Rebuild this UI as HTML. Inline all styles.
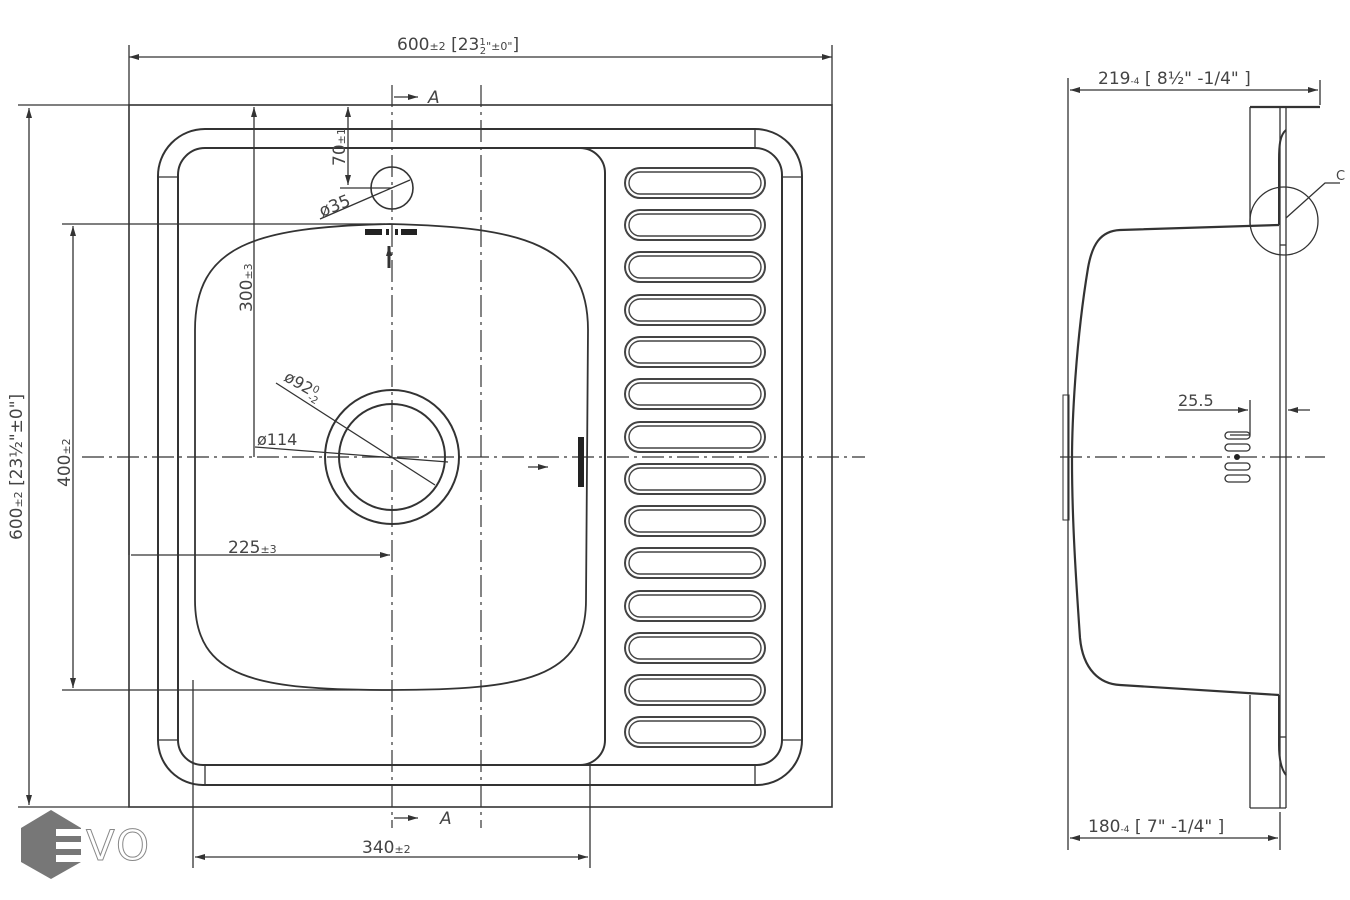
<!DOCTYPE html>
<html><head><meta charset="utf-8"><style>
html,body{margin:0;padding:0;background:#fff;width:1350px;height:900px;overflow:hidden}
svg{display:block}
text{font-family:"DejaVu Sans","Liberation Sans",sans-serif;fill:#444}
</style></head><body>
<svg width="1350" height="900" viewBox="0 0 1350 900" xmlns="http://www.w3.org/2000/svg">
<defs>
<marker id="ar" viewBox="0 0 10 6" refX="10" refY="3" markerWidth="10" markerHeight="6" orient="auto-start-reverse" markerUnits="userSpaceOnUse"><path d="M0,0 L10,3 L0,6 z" fill="#333"/></marker>
<g id="slot"><rect x="625" y="0" width="140" height="30" rx="15" fill="none" stroke="#444" stroke-width="2"/><rect x="629" y="4" width="132" height="22" rx="11" fill="none" stroke="#444" stroke-width="1.4"/></g>
</defs>
<g fill="none" stroke="#333" stroke-width="1.3">
<line x1="129" y1="45" x2="129" y2="105"/><line x1="832" y1="45" x2="832" y2="105"/>
<line x1="129" y1="57" x2="832" y2="57" marker-start="url(#ar)" marker-end="url(#ar)"/>
<rect x="129" y="105" width="703" height="702" stroke-width="1.6"/>
<line x1="18" y1="105" x2="129" y2="105"/><line x1="18" y1="807" x2="129" y2="807"/>
<line x1="29" y1="108" x2="29" y2="805" marker-start="url(#ar)" marker-end="url(#ar)"/>
<line x1="62" y1="224" x2="385" y2="224"/><line x1="62" y1="690" x2="390" y2="690"/>
<line x1="73" y1="226" x2="73" y2="688" marker-start="url(#ar)" marker-end="url(#ar)"/>
<path d="M158 177 L158 740 A45 45 0 0 0 203 785 L757 785 A45 45 0 0 0 802 740 L802 177 A47 47 0 0 0 755 129 L205 129 A47 47 0 0 0 158 177 Z" stroke-width="2"/>
<path d="M178 175 L178 740 A25 25 0 0 0 203 765 L757 765 A25 25 0 0 0 782 740 L782 175 A27 27 0 0 0 755 148 L205 148 A27 27 0 0 0 178 175 Z" stroke-width="2"/>
<line x1="158" y1="177" x2="178" y2="177"/><line x1="158" y1="740" x2="178" y2="740"/>
<line x1="782" y1="177" x2="802" y2="177"/><line x1="782" y1="740" x2="802" y2="740"/>
<line x1="205" y1="765" x2="205" y2="785"/><line x1="755" y1="765" x2="755" y2="785"/>
<line x1="755" y1="129" x2="755" y2="148"/>
<path d="M580 148 A25 25 0 0 1 605 173 L605 740 A25 25 0 0 1 580 765" stroke-width="2"/>
<path d="M195 330 C195 245,255 227,390 224 C525 227,588 245,588 330 L586 600 C586 678,525 690,390 690 C255 690,195 678,195 600 Z" stroke-width="1.8"/>
<circle cx="392" cy="457" r="67" stroke-width="2"/><circle cx="392" cy="457" r="53" stroke-width="2"/>
<circle cx="392" cy="188" r="21" stroke-width="1.6"/>
<g stroke-dasharray="22 5 3 5" stroke-width="1.2">
<line x1="82" y1="457" x2="865" y2="457"/>
<line x1="392" y1="85" x2="392" y2="828"/>
<line x1="481" y1="85" x2="481" y2="828"/>
<line x1="1060" y1="457" x2="1325" y2="457"/>
</g>
<line x1="394" y1="97" x2="418" y2="97" marker-end="url(#ar)"/>
<line x1="394" y1="818" x2="418" y2="818" marker-end="url(#ar)"/>
<line x1="348" y1="107" x2="348" y2="185" marker-start="url(#ar)" marker-end="url(#ar)"/>
<line x1="340" y1="188" x2="392" y2="188"/>
<line x1="320" y1="219" x2="410" y2="180"/>
<line x1="254" y1="107" x2="254" y2="457" marker-start="url(#ar)"/>
<line x1="276" y1="383" x2="435" y2="485"/>
<line x1="255" y1="447" x2="448" y2="462"/>
<line x1="131" y1="555" x2="390" y2="555" marker-end="url(#ar)"/>
<line x1="129" y1="460" x2="129" y2="555"/>
<line x1="193" y1="680" x2="193" y2="868"/><line x1="590" y1="765" x2="590" y2="868"/>
<line x1="195" y1="857" x2="588" y2="857" marker-start="url(#ar)" marker-end="url(#ar)"/>
<line x1="528" y1="467" x2="548" y2="467" marker-end="url(#ar)"/>
<line x1="389" y1="268" x2="389" y2="246" marker-end="url(#ar)" stroke-width="3"/>
</g>
<g fill="#222">
<rect x="365" y="229" width="17" height="6"/><rect x="386" y="229" width="3" height="6"/><rect x="395" y="229" width="3" height="6"/><rect x="401" y="229" width="16" height="6"/>
<rect x="578" y="437" width="6" height="50"/>
</g>
<use href="#slot" y="168"/><use href="#slot" y="210"/><use href="#slot" y="252"/><use href="#slot" y="295"/>
<use href="#slot" y="337"/><use href="#slot" y="379"/><use href="#slot" y="422"/><use href="#slot" y="464"/>
<use href="#slot" y="506"/><use href="#slot" y="548"/><use href="#slot" y="591"/><use href="#slot" y="633"/>
<use href="#slot" y="675"/><use href="#slot" y="717"/>
<g fill="none" stroke="#333" stroke-width="1.3">
<line x1="1068" y1="78" x2="1068" y2="850"/>
<line x1="1320" y1="80" x2="1320" y2="105"/>
<line x1="1070" y1="90" x2="1318" y2="90" marker-start="url(#ar)" marker-end="url(#ar)"/>
<line x1="1250" y1="107" x2="1320" y2="107" stroke-width="2.2"/>
<line x1="1250" y1="107" x2="1250" y2="225"/>
<line x1="1280" y1="107" x2="1280" y2="808"/>
<line x1="1286" y1="107" x2="1286" y2="808"/>
<path d="M1286 130 C1280 135,1279 145,1279 160 L1279 225" stroke-width="2"/>
<path d="M1279 695 L1279 745 C1279 760,1282 770,1286 775" stroke-width="2"/>
<line x1="1280" y1="245" x2="1286" y2="245"/><line x1="1280" y1="737" x2="1286" y2="737"/>
<path d="M1279 225 L1120 230 C1100 231,1092 245,1088 268 C1076 340,1072 420,1072 460 C1072 520,1076 580,1080 638 C1083 670,1100 684,1120 685 L1279 695" stroke-width="2.2"/>
<circle cx="1284" cy="221" r="34"/>
<polyline points="1286,218 1325,183 1340,183"/>
<line x1="1250" y1="695" x2="1250" y2="808"/><line x1="1250" y1="808" x2="1286" y2="808"/>
<rect x="1063" y="395" width="6" height="125" stroke-width="1"/>
<line x1="1280" y1="812" x2="1280" y2="850"/>
<line x1="1070" y1="838" x2="1278" y2="838" marker-start="url(#ar)" marker-end="url(#ar)"/>
<line x1="1178" y1="410" x2="1248" y2="410" marker-end="url(#ar)"/>
<line x1="1310" y1="410" x2="1288" y2="410" marker-end="url(#ar)"/>
<line x1="1250" y1="400" x2="1250" y2="435"/>
<line x1="1230" y1="435" x2="1250" y2="435"/>
<rect x="1225" y="432" width="25" height="7" rx="3.5"/><rect x="1225" y="444" width="25" height="7" rx="3.5"/>
<rect x="1225" y="463" width="25" height="7" rx="3.5"/><rect x="1225" y="475" width="25" height="7" rx="3.5"/>
</g>
<circle cx="1237" cy="457" r="3" fill="#222"/>
<text x="397" y="50" font-size="17">600<tspan font-size="11">±2</tspan> [23<tspan font-size="10" dy="-5">1</tspan><tspan font-size="10" dy="9" dx="-6">2</tspan><tspan font-size="11" dy="-4">"±0"</tspan>]</text>
<text transform="translate(22,540) rotate(-90)" font-size="17">600<tspan font-size="11">±2</tspan> [23½"±0"]</text>
<text transform="translate(70,487) rotate(-90)" font-size="17">400<tspan font-size="11">±2</tspan></text>
<text transform="translate(252,312) rotate(-90)" font-size="17">300<tspan font-size="11">±3</tspan></text>
<text transform="translate(345,166) rotate(-90)" font-size="17">70<tspan font-size="11">±1</tspan></text>
<text transform="translate(322,217) rotate(-22)" font-size="17">ø35</text>
<text transform="translate(283,380) rotate(30)" font-size="16">ø92<tspan font-size="10" dy="-5">0</tspan><tspan font-size="10" dy="10" dx="-6">-2</tspan></text>
<text x="257" y="445" font-size="16">ø114</text>
<text x="228" y="553" font-size="17">225<tspan font-size="11">±3</tspan></text>
<text x="362" y="853" font-size="17">340<tspan font-size="11">±2</tspan></text>
<text x="428" y="103" font-size="17" font-style="italic" font-family="Liberation Serif">A</text>
<text x="440" y="824" font-size="17" font-style="italic" font-family="Liberation Serif" fill="#777">A</text>
<text x="1098" y="84" font-size="17">219<tspan font-size="9">-4</tspan> [ 8½" -1/4" ]</text>
<text x="1088" y="832" font-size="17" fill="#666">180<tspan font-size="9">-4</tspan> [ 7" -1/4" ]</text>
<text x="1178" y="406" font-size="16">25.5</text>
<text x="1336" y="180" font-size="13" font-family="Liberation Serif">C</text>
<polygon points="51,810 81,828 81,862 51,879 21,862 21,828" fill="#777"/>
<g fill="#fff"><rect x="56" y="829" width="26" height="7"/><rect x="56" y="842" width="26" height="7"/><rect x="56" y="855" width="26" height="7"/></g>
<text x="86" y="860" font-size="42" letter-spacing="2" font-family="Liberation Sans" style="fill:#fff;stroke:#888;stroke-width:1">VO</text>
</svg>
</body></html>
